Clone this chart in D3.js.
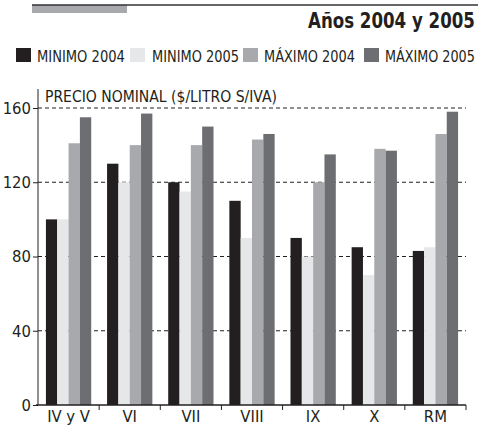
<!DOCTYPE html>
<meta charset="utf-8">
<style>
  body { margin: 0; background: #fff; }
  text { font-family: "Liberation Sans Narrow", "DejaVu Sans Condensed", "Liberation Sans", sans-serif; fill: #231f20; }
  .grid line { stroke: #231f20; stroke-dasharray: 4,3; }
  .axis path, .axis line { stroke: #231f20; }
</style>
<body>
<script src="https://d3js.org/d3.v7.min.js"></script>
<script>

  var regions = ["IV y V", "VI", "VII", "VIII", "IX", "X", "RM"];
  var seriesNames = ["MINIMO 2004", "MINIMO 2005", "MÁXIMO 2004", "MÁXIMO 2005"];
  var minimo2004 = [100, 130, 120, 110, 90, 85, 83];
  var minimo2005 = [100, 120, 115, 90, 80, 70, 85];
  var maximo2004 = [141, 140, 140, 143, 120, 138, 146];
  var maximo2005 = [155, 157, 150, 146, 135, 137, 158];
  var yTicks = [0, 40, 80, 120, 160];
  var colors = ["#231f20", "#e6e7e8", "#a7a9ac", "#6d6e71"];

  var width = 480,
    height = 426,
    left = 38,
    right = 466,
    bottom = 405;

  var values = [minimo2004, minimo2005, maximo2004, maximo2005];

  var svg = d3.select("body").append("svg")
    .attr("width", width)
    .attr("height", height);

  // squeeze a text horizontally so it spans `w` px starting at (x, y)
  function narrowText(sel, x, y, w) {
    var len = sel.node().getComputedTextLength();
    sel.attr("transform", "translate(" + x + "," + y + ") scale(" + (w / len) + ",1)");
  }

  // header rule + grey tab
  svg.append("rect").attr("x", 32).attr("y", 5).attr("width", 95).attr("height", 8).attr("fill", "#a7a9ac");
  svg.append("line").attr("x1", 32).attr("x2", 478).attr("y1", 5).attr("y2", 5)
    .attr("stroke", "#333").attr("stroke-width", 1.5);

  var title = svg.append("text")
    .style("font-size", "22px").style("font-weight", "bold")
    .text("Años 2004 y 2005");
  narrowText(title, 308, 28, 167);

  // legend
  var legendX = [16, 130, 243, 364];
  var legendW = [88, 87, 91, 90];
  var legend = svg.selectAll(".legend")
    .data(seriesNames)
    .enter().append("g")
    .attr("class", "legend")
    .attr("transform", function (d, i) { return "translate(" + legendX[i] + ",48)"; });

  legend.append("rect")
    .attr("width", 15).attr("height", 14)
    .attr("fill", function (d, i) { return colors[i]; });

  legend.append("text")
    .style("font-size", "16.5px")
    .text(function (d) { return d; })
    .each(function (d, i) { narrowText(d3.select(this), i === 1 ? 22 : 21, 14, legendW[i]); });

  var x0 = d3.scaleBand()
    .domain(regions)
    .range([left, right]);

  var x1 = d3.scaleBand()
    .domain(d3.range(4))
    .range([0, x0.bandwidth()])
    .paddingOuter(0.7);

  var y = d3.scaleLinear()
    .domain([0, 160])
    .range([bottom, 108]);

  // gridlines
  svg.append("g")
    .attr("class", "grid")
    .selectAll("line")
    .data(yTicks.slice(1))
    .enter().append("line")
    .attr("x1", left).attr("x2", right)
    .attr("y1", function (d) { return y(d); })
    .attr("y2", function (d) { return y(d); });

  // bars
  svg.append("g")
    .selectAll("g")
    .data(regions)
    .enter().append("g")
    .attr("transform", function (d) { return "translate(" + x0(d) + ",0)"; })
    .selectAll("rect")
    .data(function (d, j) { return values.map(function (s, i) { return { i: i, v: s[j] }; }); })
    .enter().append("rect")
    .attr("x", function (d) { return x1(d.i); })
    .attr("width", x1.bandwidth())
    .attr("y", function (d) { return y(d.v); })
    .attr("height", function (d) { return bottom - y(d.v); })
    .attr("fill", function (d) { return colors[d.i]; });

  // y axis
  var yAxis = svg.append("g")
    .attr("class", "axis")
    .attr("transform", "translate(" + left + ",0)")
    .call(d3.axisLeft(y).tickValues(yTicks).tickSize(5).tickPadding(2).tickSizeOuter(0));
  yAxis.select(".domain").attr("d", "M0," + bottom + "V89");
  yAxis.selectAll("text").style("font-size", "16.5px");

  // x axis
  var xTickPos = regions.map(function (d) { return x0(d); }).concat([right]);
  var xAxis = svg.append("g")
    .attr("class", "axis")
    .attr("transform", "translate(0," + bottom + ")");
  xAxis.append("line").attr("x1", left - 2).attr("x2", right).attr("stroke-width", 1.5);
  xAxis.selectAll(".tk")
    .data(xTickPos.slice(1))
    .enter().append("line")
    .attr("class", "tk")
    .attr("x1", function (d) { return d; }).attr("x2", function (d) { return d; })
    .attr("y1", 0).attr("y2", 5);
  xAxis.selectAll(".lbl")
    .data(regions)
    .enter().append("text")
    .attr("class", "lbl")
    .attr("x", function (d) { return x0(d) + x0.bandwidth() / 2; })
    .attr("y", 17)
    .attr("text-anchor", "middle")
    .style("font-size", "16.5px")
    .text(function (d) { return d; });

  var axisTitle = svg.append("text")
    .style("font-size", "16.5px")
    .text("PRECIO NOMINAL ($/LITRO S/IVA)");
  narrowText(axisTitle, 45, 102, 232);

</script>
